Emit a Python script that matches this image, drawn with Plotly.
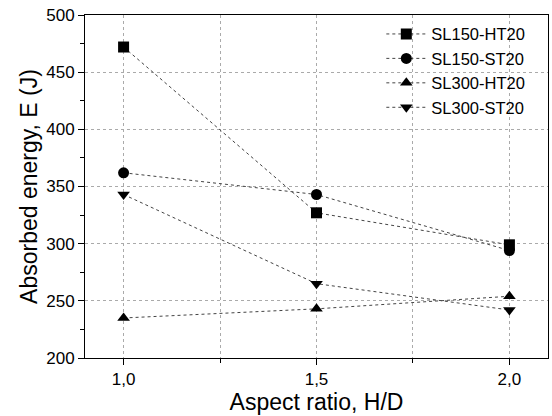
import plotly.graph_objects as go

aspect = [1.0, 1.5, 2.0]
tick_vals = [1.0, 1.5, 2.0]
tick_text = ["1,0", "1,5", "2,0"]
series_names = ["SL150-HT20", "SL150-ST20", "SL300-HT20", "SL300-ST20"]
sl150_ht20 = [472, 327, 299]
sl150_st20 = [362, 343, 294]
sl300_ht20 = [235, 243, 254]
sl300_st20 = [343, 265, 242]
symbols = ["square", "circle", "triangle-up", "triangle-down"]

fig = go.Figure()
for name, vals, sym in zip(series_names, [sl150_ht20, sl150_st20, sl300_ht20, sl300_st20], symbols):
    fig.add_trace(go.Scatter(
        x=aspect, y=vals, name=name, mode="lines+markers",
        line=dict(color="#444444", width=1, dash="dot"),
        marker=dict(symbol=sym, size=11, color="black"),
    ))

fig.update_layout(
    width=552, height=416,
    margin=dict(l=85, r=4, t=15, b=58),
    paper_bgcolor="white", plot_bgcolor="white",
    font=dict(family="Liberation Sans, Arial, sans-serif", color="black"),
    showlegend=True,
    legend=dict(x=0.64, y=0.995, xanchor="left", yanchor="top",
                bgcolor="rgba(0,0,0,0)", font=dict(size=16.5),
                tracegroupgap=0, itemwidth=40),
)
fig.update_xaxes(
    range=[0.9, 2.1], tickvals=tick_vals, ticktext=tick_text,
    ticks="outside", ticklen=6, tickwidth=1, tickcolor="black",
    minor=dict(dtick=0.25, tick0=1.0, ticks="outside", ticklen=4, tickcolor="black",
               showgrid=True, gridcolor="#aaaaaa", griddash="dot", gridwidth=1),
    showgrid=True, gridcolor="#aaaaaa", griddash="dot", gridwidth=1,
    showline=True, linecolor="black", linewidth=1, mirror=True,
    tickfont=dict(size=17), zeroline=False,
    title=dict(text="Aspect ratio, H/D", font=dict(size=23), standoff=5),
)
fig.update_yaxes(
    range=[200, 500], dtick=50, tick0=200,
    ticks="outside", ticklen=6, tickwidth=1, tickcolor="black",
    minor=dict(dtick=25, ticks="outside", ticklen=4, tickcolor="black", showgrid=False),
    showgrid=True, gridcolor="#aaaaaa", griddash="dot", gridwidth=1,
    showline=True, linecolor="black", linewidth=1, mirror=True,
    tickfont=dict(size=17), zeroline=False,
    title=dict(text="Absorbed energy, E (J)", font=dict(size=23), standoff=2),
)
fig.write_html("out.html")
